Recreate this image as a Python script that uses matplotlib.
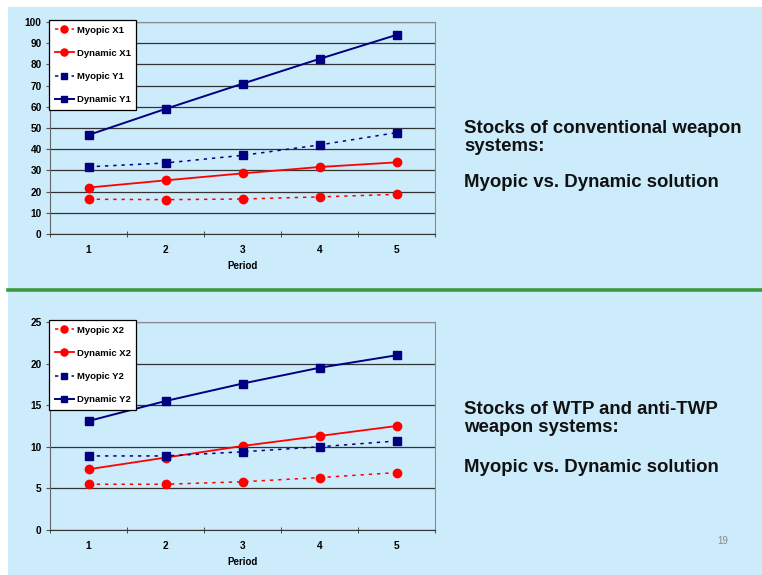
import matplotlib
matplotlib.use("Agg")
import matplotlib.pyplot as plt
from matplotlib.patches import Rectangle
from matplotlib.lines import Line2D

periods = [1, 2, 3, 4, 5]

myopic_x1 = [16.4, 16.2, 16.5, 17.5, 18.7]
dynamic_x1 = [21.9, 25.3, 28.6, 31.6, 33.8]
myopic_y1 = [31.7, 33.5, 37.1, 42.0, 47.8]
dynamic_y1 = [46.7, 59.0, 70.9, 82.6, 93.9]

myopic_x2 = [5.5, 5.5, 5.8, 6.3, 6.9]
dynamic_x2 = [7.3, 8.7, 10.1, 11.3, 12.5]
myopic_y2 = [8.9, 8.9, 9.4, 10.0, 10.7]
dynamic_y2 = [13.1, 15.5, 17.6, 19.5, 21.0]

top_labels = ["Myopic X1", "Dynamic X1", "Myopic Y1", "Dynamic Y1"]
bot_labels = ["Myopic X2", "Dynamic X2", "Myopic Y2", "Dynamic Y2"]

top_lines = ["Stocks of conventional weapon", "systems:"]
bot_lines = ["Stocks of WTP and anti-TWP", "weapon systems:"]
sub_text = "Myopic vs. Dynamic solution"

plt.rcParams['font.family'] = ['Liberation Sans', 'DejaVu Sans']

W, H = 762, 575
fig = plt.figure(figsize=(W / 100, H / 100), dpi=100)
fig.patch.set_facecolor("white")

BG = "#CCEBFB"
fig.patches.append(Rectangle((8 / W, 0), 1 - 8 / W, 1 - 7 / H, transform=fig.transFigure,
                             facecolor=BG, edgecolor="none", zorder=-10))
fig.lines.append(Line2D([8 / W, 1], [1 - 290 / H, 1 - 290 / H], transform=fig.transFigure,
                        color="#3C9A3C", lw=2.6, zorder=1))

RED = "#FF0000"
NAVY = "#000080"
dot = (0, (2.2, 3.2))


def make_ax(top_px, bot_px, ymax, ystep, series, labels):
    left, right = 50, 435
    ax = fig.add_axes([left / W, 1 - bot_px / H, (right - left) / W, (bot_px - top_px) / H])
    ax.set_zorder(2)
    ax.set_facecolor("none")
    styles = [
        dict(color=RED, ls=dot, marker="o", ms=6, lw=1.1),
        dict(color=RED, ls="-", marker="o", ms=6, lw=1.3),
        dict(color=NAVY, ls=dot, marker="s", ms=5.3, lw=1.1),
        dict(color=NAVY, ls="-", marker="s", ms=5.3, lw=1.4),
    ]
    for s, lab, st in zip(series, labels, styles):
        ax.plot(periods, s, label=lab, zorder=3, **st)
    ax.set_xlim(0.5, 5.5)
    ax.set_ylim(0, ymax)
    ax.set_yticks(range(0, ymax + 1, ystep))
    ax.yaxis.grid(True, color="#333333", lw=0.9)
    ax.set_axisbelow(True)
    ax.set_xticks(periods)
    ax.set_xticks([0.5 + i for i in range(6)], minor=True)
    ax.tick_params(axis="x", which="major", length=0, pad=8, labelsize=7.3)
    ax.tick_params(axis="x", which="minor", length=4, direction="inout", color="#333333")
    ax.tick_params(axis="y", length=3, direction="out", color="#555555", labelsize=7.3, pad=3)
    for lab in ax.get_xticklabels() + ax.get_yticklabels():
        lab.set_fontweight("bold")
    ax.spines["left"].set_color("#666666")
    ax.spines["bottom"].set_color("#333333")
    ax.spines["top"].set_color("#8C8C8C")
    ax.spines["right"].set_color("#8C8C8C")
    ax.set_xlabel("Period", fontsize=7, fontweight="bold", labelpad=4)
    leg = ax.legend(loc="upper left", bbox_to_anchor=(-0.003, 1.01),
                    borderaxespad=0, fancybox=False, edgecolor="black",
                    framealpha=1, facecolor="white",
                    prop=dict(size=6.8, weight="bold"), handlelength=2.1,
                    handletextpad=0.25, labelspacing=1.5, borderpad=0.6,
                    markerscale=0.85)
    leg.get_frame().set_linewidth(0.9)
    return ax


make_ax(22, 234, 100, 10, [myopic_x1, dynamic_x1, myopic_y1, dynamic_y1], top_labels)
make_ax(322, 530, 25, 5, [myopic_x2, dynamic_x2, myopic_y2, dynamic_y2], bot_labels)

tkw = dict(fontsize=13.4, fontweight="bold", color="#111111", ha="left", va="baseline",
           transform=fig.transFigure)
fig.text(464 / W, 1 - 133 / H, top_lines[0], **tkw)
fig.text(464 / W, 1 - 151 / H, top_lines[1], **tkw)
fig.text(464 / W, 1 - 187 / H, sub_text, **tkw)
fig.text(464 / W, 1 - 414 / H, bot_lines[0], **tkw)
fig.text(464 / W, 1 - 432 / H, bot_lines[1], **tkw)
fig.text(464 / W, 1 - 472 / H, sub_text, **tkw)
fig.text(723 / W, 1 - 541 / H, "19", fontsize=7, color="#888888", ha="center", va="center",
         transform=fig.transFigure)

fig.savefig("out.png", dpi=100, facecolor=fig.get_facecolor())
